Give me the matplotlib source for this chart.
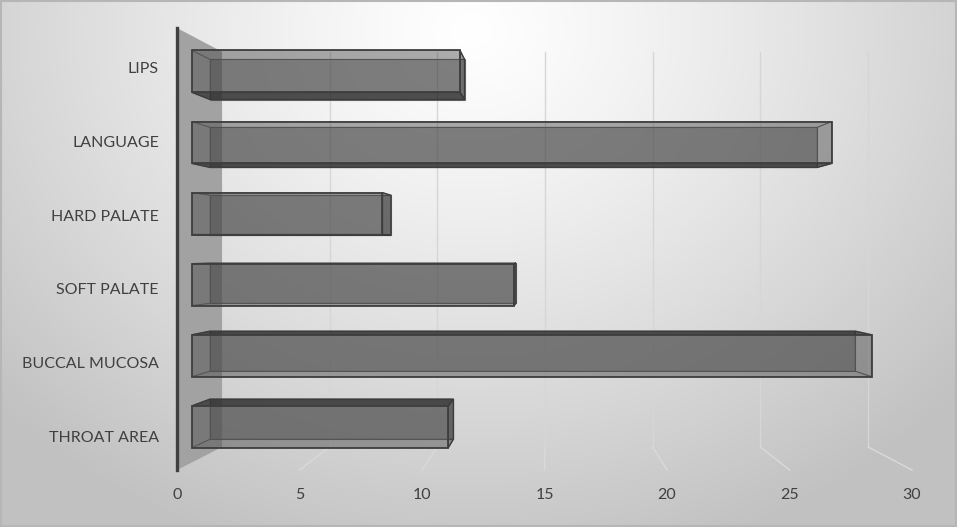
import numpy as np
import matplotlib
matplotlib.use('Agg')
import matplotlib.pyplot as plt
import matplotlib.transforms as mtrans
from matplotlib.patches import Polygon, Rectangle
from matplotlib.colors import to_rgba

plt.rcParams['font.family'] = ['Lato', 'DejaVu Sans']

# ---- data ----
categories = ['THROAT AREA', 'BUCCAL MUCOSA', 'SOFT PALATE', 'HARD PALATE', 'LANGUAGE', 'LIPS']
values = [10.9, 28.9, 13.7, 8.1, 27.2, 11.4]
x_ticks = [0, 5, 10, 15, 20, 25, 30]

# ---- 3D look parameters ----
VC, CC = 15.2, 2.45      # vanishing centre (value units, category units)
RX, RY = 0.879, 0.894    # back-plane shrink factors
Z1, Z2 = 0.333, 0.735    # bar depth range
HALF = 0.295             # half bar thickness (category units)


def proj(v, c, z):
    sx = 1 - (1 - RX) * z
    sy = 1 - (1 - RY) * z
    return (VC + (v - VC) * sx, CC + (c - CC) * sy)


W, H = 957, 527
fig = plt.figure(figsize=(W / 100, H / 100), dpi=100)

# background gradient
bg = fig.add_axes([0, 0, 1, 1], zorder=-10)
yy, xx = np.mgrid[0:H, 0:W]
r = np.sqrt(((xx - 470) / 1.0) ** 2 + ((yy - 30) / 0.85) ** 2)
val = 1.0 - (62 / 255) * np.clip(r / 650, 0, 1) ** 1.2
bg.imshow(np.dstack([val] * 3), extent=[0, W, H, 0], aspect='auto', interpolation='bilinear')
bg.set_xlim(0, W); bg.set_ylim(H, 0); bg.axis('off')
bg.add_patch(Rectangle((0.75, 0.75), W - 1.5, H - 1.5, fill=False, edgecolor='#b6b6b6', lw=1.5))

ax = fig.add_axes([177 / W, (H - 470) / H, (912 - 177) / W, (470 - 28) / H])
ax.set_xlim(0, 30)
ax.set_ylim(-0.5, 5.5)
ax.patch.set_visible(False)
for s in ['top', 'right', 'bottom']:
    ax.spines[s].set_visible(False)
ax.spines['left'].set_color('#404040')
ax.spines['left'].set_linewidth(2.4)
ax.spines['left'].set_zorder(10)
ax.set_xticks(x_ticks)
ax.set_xticklabels([str(t) for t in x_ticks])
ax.set_yticks(range(len(categories)))
ax.set_yticklabels(categories)
ax.tick_params(axis='both', length=0, labelsize=11.5, labelcolor='#404040')
ax.tick_params(axis='x', pad=13)
ax.tick_params(axis='y', pad=13)
shift = mtrans.ScaledTranslation(0, -3 / 72 * 0.72, fig.dpi_scale_trans)
for lab in ax.get_yticklabels():
    lab.set_transform(lab.get_transform() + shift)

ymin, ymax = -0.5, 5.5
# side wall
side = [proj(0, ymin, 0), proj(0, ymax, 0), proj(0, ymax, 1), proj(0, ymin, 1)]
ax.add_patch(Polygon(side, closed=True, facecolor='#a2a2a2', edgecolor='none', zorder=0.5, clip_on=False))

# back wall gridlines + floor lines
for t in x_ticks[1:]:
    p0 = proj(t, ymin, 1); p1 = proj(t, ymax, 1); p2 = proj(t, ymin, 0)
    ax.plot([p0[0], p1[0]], [p0[1], p1[1]], color='#d6d6d6', lw=1.0, zorder=0.6, clip_on=False)
    ax.plot([p0[0], p2[0]], [p0[1], p2[1]], color='#dadada', lw=1.0, zorder=0.6, clip_on=False)

BODY = '#4a4a4a'
DARK = '#282828'


def face(pts, fc, ec, lw, z):
    ax.add_patch(Polygon(pts, closed=True, facecolor=fc, edgecolor=ec, lw=lw,
                         zorder=z, clip_on=False))


for i, v in enumerate(values):
    c0, c1 = i - HALF, i + HALF
    front = [proj(0, c0, Z1), proj(v, c0, Z1), proj(v, c1, Z1), proj(0, c1, Z1)]
    back = [proj(0, c0, Z2), proj(v, c0, Z2), proj(v, c1, Z2), proj(0, c1, Z2)]
    left = [proj(0, c0, Z1), proj(0, c1, Z1), proj(0, c1, Z2), proj(0, c0, Z2)]
    right = [proj(v, c0, Z1), proj(v, c1, Z1), proj(v, c1, Z2), proj(v, c0, Z2)]
    top = [proj(0, c1, Z1), proj(v, c1, Z1), proj(v, c1, Z2), proj(0, c1, Z2)]
    bot = [proj(0, c0, Z1), proj(v, c0, Z1), proj(v, c0, Z2), proj(0, c0, Z2)]
    zb = 2 + i * 0.1
    face(back, to_rgba(BODY, 0.46), to_rgba('#505050', 0.8), 0.8, zb)
    hid_h = top if i > CC else bot
    vis_h = bot if i > CC else top
    face(left, 'none', to_rgba('#555555', 0.6), 0.7, zb + 0.01)
    face(hid_h, 'none', to_rgba('#555555', 0.6), 0.7, zb + 0.01)
    if v < VC:
        face(right, to_rgba(DARK, 0.45), to_rgba('#3c3c3c', 1.0), 1.0, zb + 0.03)
    else:
        face(right, 'none', to_rgba('#555555', 0.7), 0.8, zb + 0.01)
    face(vis_h, to_rgba(DARK, 0.7), to_rgba('#3c3c3c', 1.0), 1.0, zb + 0.02)
    face(front, to_rgba(BODY, 0.46), to_rgba('#3f3f3f', 1.0), 1.3, zb + 0.05)

fig.savefig('out.png', dpi=100)
